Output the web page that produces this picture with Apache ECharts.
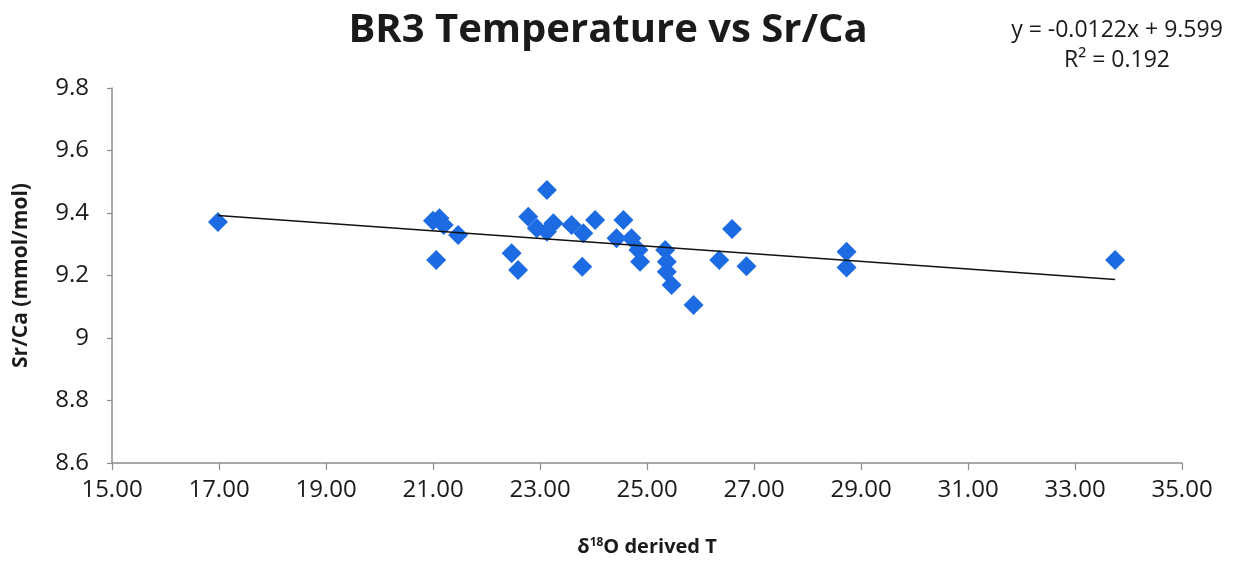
<!DOCTYPE html>
<html>
<head>
<meta charset="utf-8">
<title>BR3 Temperature vs Sr/Ca</title>
<script src="https://cdn.jsdelivr.net/npm/echarts@6/dist/echarts.min.js"></script>
<style>
  html, body { margin: 0; padding: 0; background: #fff; }
  #chart { width: 1235px; height: 567px; }
</style>
</head>
<body>
<div id="chart"></div>
<script>
// δ18O-derived temperature for each BR3 sample
const temperature = [
  16.98, 21.00, 21.12, 21.20, 21.47, 21.06, 22.47, 22.59, 23.13, 22.78,
  22.94, 23.25, 23.13, 23.59, 23.81, 24.03, 23.79, 24.56, 24.43, 24.71,
  24.84, 24.87, 25.34, 25.37, 25.37, 25.46, 25.87, 26.59, 26.35, 26.86,
  28.73, 28.73, 33.75
];
// Sr/Ca ratio (mmol/mol) for the same samples
const srca = [
  9.371, 9.375, 9.383, 9.362, 9.330, 9.250, 9.271, 9.218, 9.474, 9.388,
  9.351, 9.367, 9.340, 9.362, 9.335, 9.378, 9.228, 9.378, 9.319, 9.319,
  9.282, 9.244, 9.282, 9.244, 9.212, 9.170, 9.106, 9.349, 9.250, 9.230,
  9.276, 9.226, 9.250
];
// Linear trend: y = slope * x + intercept
const slope = -0.0122;
const intercept = 9.599;
const rSquared = 0.192;

const xTicks = { min: 15, max: 35, interval: 2 };
const yTicks = { min: 8.6, max: 9.8, interval: 0.2 };

const points = temperature.map((t, i) => [t, srca[i]]);
const xMin = Math.min(...temperature);
const xMax = Math.max(...temperature);
const trend = [[xMin, slope * xMin + intercept], [xMax, slope * xMax + intercept]];

const font = '"Open Sans", "Liberation Sans", sans-serif';
const ink = '#1a1a1a';
const chart = echarts.init(document.getElementById('chart'), null, { renderer: 'canvas' });

chart.setOption({
  backgroundColor: '#ffffff',
  animation: false,
  title: {
    text: 'BR3 Temperature vs Sr/Ca',
    left: 603,
    textAlign: 'center',
    top: 6,
    textStyle: { fontFamily: font, fontSize: 40, fontWeight: 'bold', color: ink }
  },
  graphic: [
    {
      type: 'text',
      x: 1117,
      y: 30,
      style: {
        text: 'y = ' + slope.toFixed(4) + 'x + ' + intercept.toFixed(3),
        font: '23px ' + font,
        fill: ink,
        align: 'center',
        verticalAlign: 'middle'
      }
    },
    {
      type: 'text',
      x: 1117,
      y: 60,
      style: {
        text: 'R² = ' + rSquared.toFixed(3),
        font: '23px ' + font,
        fill: ink,
        align: 'center',
        verticalAlign: 'middle'
      }
    }
  ],
  grid: { left: 112, right: 53, top: 88, bottom: 104, containLabel: false, outerBoundsMode: 'none' },
  xAxis: {
    type: 'value',
    min: xTicks.min,
    max: xTicks.max,
    interval: xTicks.interval,
    name: '{b|δ}{sup|18}{b|O derived T}',
    nameLocation: 'middle',
    nameGap: 74,
    nameTextStyle: {
      rich: {
        b: { fontFamily: font, fontSize: 20, fontWeight: 'bold', color: ink },
        sup: { fontFamily: font, fontSize: 12, fontWeight: 'bold', color: ink, verticalAlign: 'top', padding: [0, 0, 9, 0] }
      }
    },
    axisLine: { onZero: false, lineStyle: { color: '#8c8c8c', width: 1.5 } },
    axisTick: { show: true, inside: false, length: 7, lineStyle: { color: '#8c8c8c', width: 1.2 } },
    axisLabel: {
      margin: 15,
      fontFamily: font,
      fontSize: 24,
      color: ink,
      formatter: v => v.toFixed(2)
    },
    splitLine: { show: false }
  },
  yAxis: {
    type: 'value',
    min: yTicks.min,
    max: yTicks.max,
    interval: yTicks.interval,
    name: 'Sr/Ca (mmol/mol)',
    nameLocation: 'middle',
    nameGap: 80,
    nameRotate: 90,
    nameTextStyle: { fontFamily: font, fontSize: 21, fontWeight: 'bold', color: ink },
    axisLine: { show: true, onZero: false, lineStyle: { color: '#8c8c8c', width: 1.5 } },
    axisTick: { show: true, inside: false, length: 5, lineStyle: { color: '#8c8c8c', width: 1.2 } },
    axisLabel: {
      margin: 23,
      fontFamily: font,
      fontSize: 24,
      color: ink,
      formatter: v => String(parseFloat(v.toFixed(1)))
    },
    splitLine: { show: false }
  },
  series: [
    {
      type: 'line',
      data: trend,
      symbol: 'none',
      lineStyle: { color: '#111111', width: 1.6 },
      silent: true,
      z: 3
    },
    {
      type: 'scatter',
      data: points,
      symbol: 'diamond',
      symbolSize: 20,
      itemStyle: { color: '#1c6be3', opacity: 1 },
      z: 2
    }
  ]
});
</script>
</body>
</html>
